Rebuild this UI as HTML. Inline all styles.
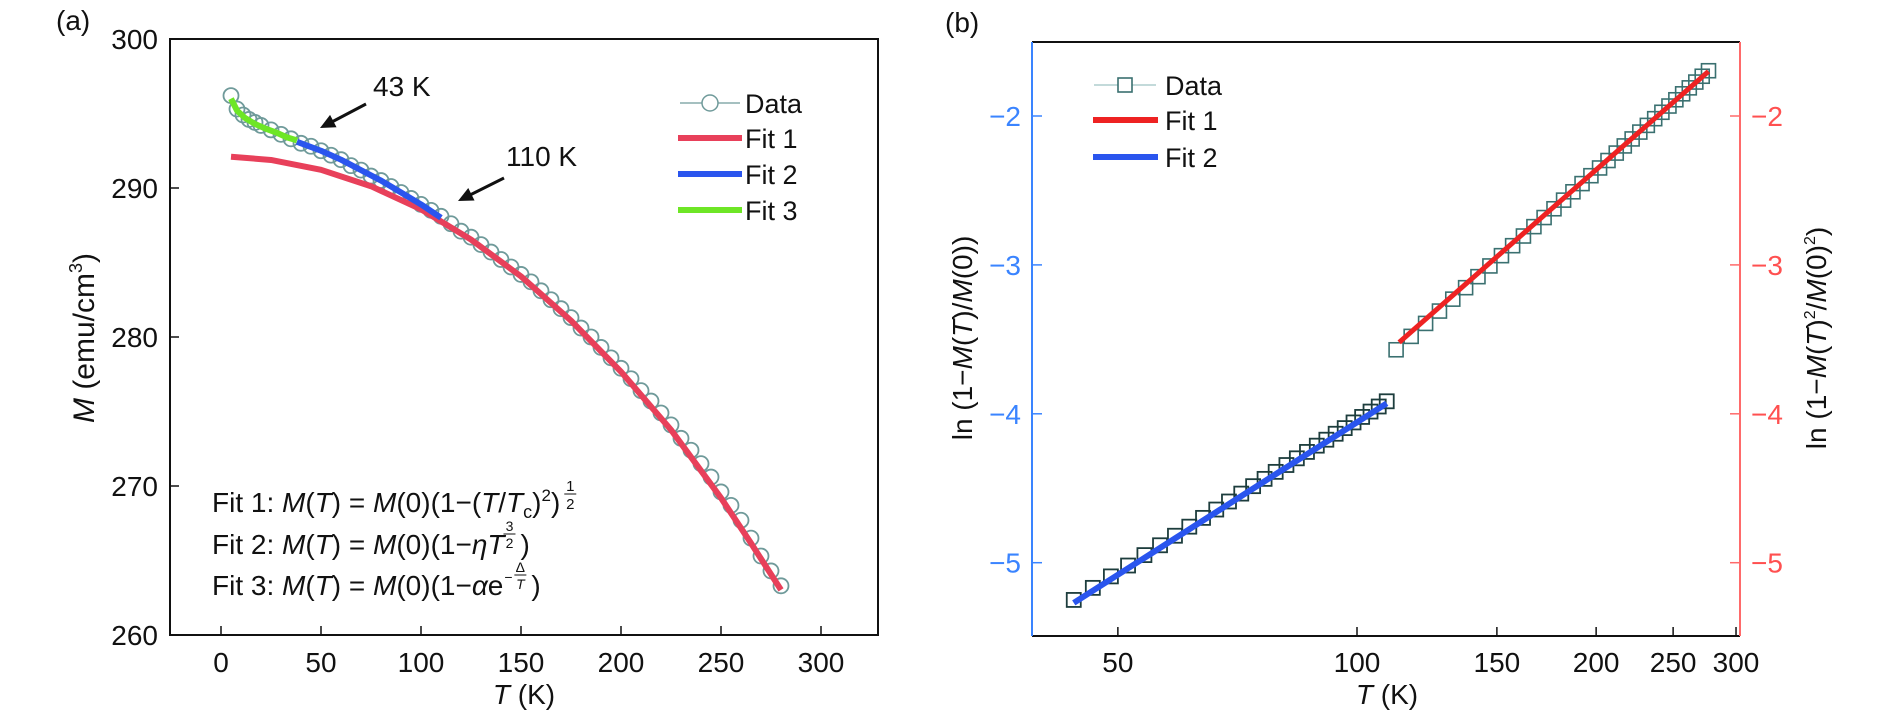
<!DOCTYPE html>
<html><head><meta charset="utf-8"><style>
html,body{margin:0;padding:0;background:#fff;}
svg{display:block;font-family:"Liberation Sans",sans-serif;}
</style></head><body>
<svg id="fig" width="1890" height="717" viewBox="0 0 1890 717">
<g id="pa"></g>
<g id="pb"></g>
</svg>
<script>
// ---------- Panel (a) data ----------
const aDataT = [5,8,11,14,17,20,25,30,35,40,45,50,55,60,65,70,75,80,85,90,95,100,105,110,115,120,125,130,135,140,145,150,155,160,165,170,175,180,185,190,195,200,205,210,215,220,225,230,235,240,245,250,255,260,265,270,275,280];
const aDataM = [296.2,295.3,294.9,294.6,294.4,294.2,293.9,293.6,293.3,293.0,292.8,292.5,292.2,291.9,291.5,291.2,290.8,290.5,290.1,289.7,289.3,288.9,288.5,288.1,287.6,287.1,286.7,286.2,285.7,285.2,284.7,284.2,283.7,283.1,282.5,281.9,281.3,280.6,280.0,279.3,278.6,277.9,277.2,276.4,275.7,274.9,274.1,273.2,272.4,271.5,270.6,269.6,268.7,267.7,266.5,265.3,264.3,263.3];
const aFit1T = [5,25,50,75,100,125,150,175,200,225,250,265,280];
const aFit1M = [292.1,291.88,291.22,290.12,288.57,286.54,284.07,281.1,277.67,273.77,269.2,266.16,263.03];
const aFit2T = [38,50,60,70,80,90,100,110];
const aFit2M = [293.1,292.5,291.9,291.2,290.5,289.7,288.9,288.0];
const aFit3T = [5,8,12,17,22,28,33,38];
const aFit3M = [296.0,295.2,294.7,294.3,294.0,293.7,293.4,293.2];
const aXTicks = [0,50,100,150,200,250,300];
const aYTicks = [260,270,280,290,300];
// ---------- Panel (b) data ----------
const bFit2T = [44,46.5,49,51.5,54,56.5,59,61.5,64,66.5,69,71.5,74,76.5,79,81.5,84,86.5,89,91.5,94,96.5,99,101.5,104,106.5,109];
const bFit2Y = [-5.25,-5.169,-5.092,-5.019,-4.949,-4.883,-4.819,-4.758,-4.699,-4.643,-4.589,-4.536,-4.486,-4.437,-4.39,-4.344,-4.299,-4.256,-4.214,-4.174,-4.134,-4.096,-4.058,-4.021,-3.985,-3.951,-3.916];
const bFit1T = [112,117,122,127,132,137,142,147,152,157,162,167,172,177,182,187,192,197,202,207,212,217,222,227,232,237,242,247,252,257,262,267,272,277];
const bFit1Y = [-3.57,-3.48,-3.393,-3.31,-3.23,-3.153,-3.079,-3.007,-2.938,-2.871,-2.806,-2.743,-2.682,-2.623,-2.565,-2.509,-2.454,-2.401,-2.349,-2.299,-2.249,-2.201,-2.154,-2.108,-2.063,-2.018,-1.975,-1.933,-1.891,-1.851,-1.811,-1.772,-1.733,-1.696];
const bLine2T = [44,109];
const bLine2Y = [-5.27,-3.93];
const bLine1T = [113,277];
const bLine1Y = [-3.52,-1.70];
const bXTicks = [50,100,150,200,250,300];
const bYTicks = [-2,-3,-4,-5];

const NS = "http://www.w3.org/2000/svg";
function mk(parent, tag, attrs, text){
  const e = document.createElementNS(NS, tag);
  for (const k in attrs) e.setAttribute(k, attrs[k]);
  if (text !== undefined) e.textContent = text;
  parent.appendChild(e); return e;
}
const ax = t => 221 + 2 * t;
const ay = m => 39 + (300 - m) * 14.9;
const bx = t => 1357 + 345 * Math.log(t / 100);
const by = v => 116 + (-2 - v) * 148.9;

// ---------- Panel a ----------
const pa = document.getElementById('pa');
let e;
e = mk(pa,'rect',{x:170,y:39,width:708,height:596,fill:'none',stroke:'#111','stroke-width':2});
 
aXTicks.forEach(t=>{
  e = mk(pa,'line',{x1:ax(t),x2:ax(t),y1:635,y2:626,stroke:'#111','stroke-width':1.5});
   
  e = mk(pa,'text',{x:ax(t),y:672,'font-size':28,'text-anchor':'middle',fill:'#111'},String(t));
   
});
aYTicks.forEach(v=>{
  e = mk(pa,'line',{x1:170,x2:179,y1:ay(v),y2:ay(v),stroke:'#111','stroke-width':1.5});
   
  e = mk(pa,'text',{x:158,y:ay(v)+10,'font-size':28,'text-anchor':'end',fill:'#111'},String(v));
   
});
function polyA(T,M,color,w,name){
  const p = T.map((t,i)=>ax(t)+','+ay(M[i])).join(' ');
  const el = mk(pa,'polyline',{points:p,fill:'none',stroke:color,'stroke-width':w,'stroke-linecap':'butt','stroke-linejoin':'round'});
   
}
aDataT.forEach((t,i)=>{
  e = mk(pa,'circle',{cx:ax(t),cy:ay(aDataM[i]),r:7.5,fill:'none',stroke:'#6f9a9a','stroke-width':1.8});
   
});
polyA(aFit1T,aFit1M,'#e8405a',6,'fit1-curve');
polyA(aFit2T,aFit2M,'#2a55ee',6,'fit2-curve');
polyA(aFit3T,aFit3M,'#6ee626',6,'fit3-curve');
// legend a
e = mk(pa,'line',{x1:680,x2:740,y1:103,y2:103,stroke:'#6f9a9a','stroke-width':1.2});  
e = mk(pa,'circle',{cx:710,cy:103,r:8,fill:'#fff',stroke:'#6f9a9a','stroke-width':1.5});  
const legA=[['Data',103,null],['Fit 1',138,'#e8405a'],['Fit 2',174,'#2a55ee'],['Fit 3',210,'#6ee626']];
legA.forEach(l=>{
  if(l[2]){ e = mk(pa,'line',{x1:678,x2:742,y1:l[1],y2:l[1],stroke:l[2],'stroke-width':6});   }
  e = mk(pa,'text',{x:745,y:l[1]+10,'font-size':27,fill:'#111'},l[0]);  
});
// annotations
e = mk(pa,'text',{x:373,y:96,'font-size':28,fill:'#111'},'43 K');  
e = mk(pa,'text',{x:506,y:166,'font-size':28,fill:'#111'},'110 K');  
function arrow(x1,y1,x2,y2,name){
  const g = mk(pa,'g',{});
   
  mk(g,'line',{x1:x1,y1:y1,x2:x2+8,y2:y2-4,stroke:'#111','stroke-width':3});
  const a=Math.atan2(y2-y1,x2-x1), L=15, W=7;
  const bxp=x2-L*Math.cos(a), byp=y2-L*Math.sin(a);
  mk(g,'polygon',{points:`${x2},${y2} ${bxp+W*Math.sin(a)},${byp-W*Math.cos(a)} ${bxp-W*Math.sin(a)},${byp+W*Math.cos(a)}`,fill:'#111'});
}
arrow(366,104,320,128,'arrow-43k');
arrow(504,178,458,201,'arrow-110k');
// formulas
const fg = mk(pa,'g',{'font-size':28,fill:'#111'});
 
function frac(x, yc, top, bot, fs){
  mk(fg,'text',{x:x,y:yc-3,'font-size':fs,'text-anchor':'middle'},top);
  mk(fg,'line',{x1:x-6,x2:x+6,y1:yc,y2:yc,stroke:'#111','stroke-width':1});
  mk(fg,'text',{x:x,y:yc+fs,'font-size':fs,'text-anchor':'middle','font-style':(bot==='T'?'italic':'normal')},bot);
}
let t1 = mk(fg,'text',{x:212,y:512});
t1.innerHTML='Fit 1: <tspan font-style="italic">M</tspan>(<tspan font-style="italic">T</tspan>) = <tspan font-style="italic">M</tspan>(0)(1−(<tspan font-style="italic">T</tspan>/<tspan font-style="italic">T</tspan><tspan font-size="18" dy="6">c</tspan><tspan dy="-6">)</tspan><tspan font-size="17" dy="-11">2</tspan><tspan dy="11">)</tspan>';
let w1 = t1.getComputedTextLength();
frac(212+w1+10, 494, '1','2',15);
let t2 = mk(fg,'text',{x:212,y:554});
t2.innerHTML='Fit 2: <tspan font-style="italic">M</tspan>(<tspan font-style="italic">T</tspan>) = <tspan font-style="italic">M</tspan>(0)(1−<tspan font-style="italic">ηT</tspan>';
let w2 = t2.getComputedTextLength();
frac(212+w2+5, 534, '3','2',14);
mk(fg,'text',{x:212+w2+16,y:554},')');
let t3 = mk(fg,'text',{x:212,y:595});
t3.innerHTML='Fit 3: <tspan font-style="italic">M</tspan>(<tspan font-style="italic">T</tspan>) = <tspan font-style="italic">M</tspan>(0)(1−<tspan font-style="italic">α</tspan>e';
let w3 = t3.getComputedTextLength();
mk(fg,'text',{x:212+w3+1,y:582,'font-size':14},'−');
frac(212+w3+17, 575, 'Δ','T',14);
mk(fg,'text',{x:212+w3+28,y:595},')');
// titles
e = mk(pa,'text',{x:0,y:0,'font-size':30,'text-anchor':'middle',fill:'#111',transform:'translate(94,338) rotate(-90)'});
e.innerHTML='<tspan font-style="italic">M</tspan> (emu/cm<tspan font-size="18" dy="-12">3</tspan><tspan dy="12">)</tspan>';
 
e = mk(pa,'text',{x:524,y:704,'font-size':28,'text-anchor':'middle',fill:'#111'});
e.innerHTML='<tspan font-style="italic">T</tspan> (K)';
 
e = mk(pa,'text',{x:56,y:30,'font-size':28,fill:'#111'},'(a)');  

// ---------- Panel b ----------
const pb = document.getElementById('pb');
e = mk(pb,'line',{x1:1032,x2:1740,y1:42,y2:42,stroke:'#111','stroke-width':2});  
e = mk(pb,'line',{x1:1032,x2:1740,y1:636,y2:636,stroke:'#111','stroke-width':2});  
e = mk(pb,'line',{x1:1032,x2:1032,y1:42,y2:636,stroke:'#3a84ff','stroke-width':2});  
e = mk(pb,'line',{x1:1740,x2:1740,y1:42,y2:636,stroke:'#ff6a6a','stroke-width':2});  
bXTicks.forEach(t=>{
  e = mk(pb,'line',{x1:bx(t),x2:bx(t),y1:636,y2:627,stroke:'#111','stroke-width':1.5});  
  e = mk(pb,'text',{x:bx(t),y:672,'font-size':28,'text-anchor':'middle',fill:'#111'},String(t));  
});
bYTicks.forEach(v=>{
  e = mk(pb,'line',{x1:1032,x2:1042,y1:by(v),y2:by(v),stroke:'#3a84ff','stroke-width':1.5});  
  e = mk(pb,'text',{x:1021,y:by(v)+10,'font-size':28,'text-anchor':'end',fill:'#3a84ff'},'−'+Math.abs(v));  
  e = mk(pb,'line',{x1:1730,x2:1740,y1:by(v),y2:by(v),stroke:'#ff6a6a','stroke-width':1.5});  
  e = mk(pb,'text',{x:1751,y:by(v)+10,'font-size':28,fill:'#ff5050'},'−'+Math.abs(v));  
});
bFit2T.forEach((t,i)=>{
  e = mk(pb,'rect',{x:bx(t)-7,y:by(bFit2Y[i])-7,width:14,height:14,fill:'none',stroke:'#1d3d3d','stroke-width':1.8});  
});
bFit1T.forEach((t,i)=>{
  e = mk(pb,'rect',{x:bx(t)-7,y:by(bFit1Y[i])-7,width:14,height:14,fill:'none',stroke:'#3a7070','stroke-width':1.6});  
});
e = mk(pb,'line',{x1:bx(bLine2T[0]),y1:by(bLine2Y[0]),x2:bx(bLine2T[1]),y2:by(bLine2Y[1]),stroke:'#2a55ee','stroke-width':6});  
e = mk(pb,'line',{x1:bx(bLine1T[0]),y1:by(bLine1Y[0]),x2:bx(bLine1T[1]),y2:by(bLine1Y[1]),stroke:'#ee2222','stroke-width':5});  
// legend b
e = mk(pb,'line',{x1:1094,x2:1156,y1:85,y2:85,stroke:'#9fc4c4','stroke-width':1.2});  
e = mk(pb,'rect',{x:1118,y:78,width:14,height:14,fill:'#fff',stroke:'#3a7070','stroke-width':1.6});  
e = mk(pb,'line',{x1:1093,x2:1158,y1:120,y2:120,stroke:'#ee2222','stroke-width':6});  
e = mk(pb,'line',{x1:1093,x2:1158,y1:157,y2:157,stroke:'#2a55ee','stroke-width':6});  
[['Data',85],['Fit 1',120],['Fit 2',157]].forEach(l=>{
  e = mk(pb,'text',{x:1165,y:l[1]+10,'font-size':27,fill:'#111'},l[0]);  
});
e = mk(pb,'text',{x:0,y:0,'font-size':28,'text-anchor':'middle',fill:'#111',transform:'translate(972,338) rotate(-90)'});
e.innerHTML='ln (1−<tspan font-style="italic">M</tspan>(<tspan font-style="italic">T</tspan>)/<tspan font-style="italic">M</tspan>(0))';
 
e = mk(pb,'text',{x:0,y:0,'font-size':28,'text-anchor':'middle',fill:'#111',transform:'translate(1826,338) rotate(-90)'});
e.innerHTML='ln (1−<tspan font-style="italic">M</tspan>(<tspan font-style="italic">T</tspan>)<tspan font-size="16" dy="-11">2</tspan><tspan dy="11">/</tspan><tspan font-style="italic">M</tspan>(0)<tspan font-size="16" dy="-11">2</tspan><tspan dy="11">)</tspan>';
 
e = mk(pb,'text',{x:1387,y:704,'font-size':28,'text-anchor':'middle',fill:'#111'});
e.innerHTML='<tspan font-style="italic">T</tspan> (K)';
 
e = mk(pb,'text',{x:945,y:32,'font-size':28,fill:'#111'},'(b)');  
</script>
</body></html>
